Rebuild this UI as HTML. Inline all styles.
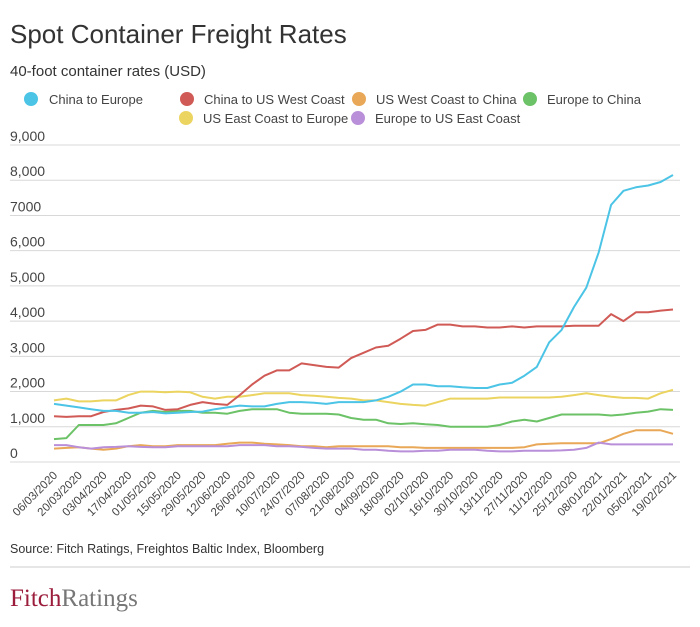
<!DOCTYPE html>
<html><head><meta charset="utf-8">
<style>
body{margin:0;background:#fff;font-family:"Liberation Sans",sans-serif;}
svg{display:block}
</style></head><body>
<svg id="s" width="700" height="627" xmlns="http://www.w3.org/2000/svg" font-family="Liberation Sans, sans-serif">
<text x="10" y="43" font-size="26" fill="#333">Spot Container Freight Rates</text>
<text x="10" y="76" font-size="15" fill="#333">40-foot container rates (USD)</text>
<g font-size="13" fill="#444">
<circle cx="31" cy="99" r="7" fill="#4cc4e6"/><text x="49" y="104">China to Europe</text>
<circle cx="187" cy="99" r="7" fill="#d05a55"/><text x="204" y="104">China to US West Coast</text>
<circle cx="359" cy="99" r="7" fill="#e8a857"/><text x="376" y="104">US West Coast to China</text>
<circle cx="530" cy="99" r="7" fill="#6cc267"/><text x="547" y="104">Europe to China</text>
<circle cx="186" cy="118" r="7" fill="#ecd460"/><text x="203" y="123">US East Coast to Europe</text>
<circle cx="358" cy="118" r="7" fill="#b98fd9"/><text x="375" y="123">Europe to US East Coast</text>
</g>
<g id="grid"></g>
<g id="lines" fill="none" stroke-width="2" stroke-linejoin="round"></g>
<g id="xl" font-size="11.5" fill="#444"></g>
<text x="10" y="553" font-size="12.5" fill="#333">Source: Fitch Ratings, Freightos Baltic Index, Bloomberg</text>
<line x1="10" y1="567" x2="690" y2="567" stroke="#ccc"/>
<text x="10" y="606" font-family="Liberation Serif, serif" font-size="25"><tspan fill="#9b1c3b">Fitch</tspan><tspan fill="#777">Ratings</tspan></text>
</svg>
<script>
var NS="http://www.w3.org/2000/svg";
function el(t,a,p,txt){var e=document.createElementNS(NS,t);for(var k in a)e.setAttribute(k,a[k]);if(txt)e.textContent=txt;document.getElementById(p).appendChild(e);return e;}
function Y(v){return 462-v*0.03522;}
var labs=["0","1,000","2,000","3,000","4,000","5,000","6,000","7000","8,000","9,000"];
for(var i=0;i<=9;i++){var y=Y(i*1000);el("line",{x1:10,x2:680,y1:y,y2:y,stroke:"#d8d8d8"},"grid");el("text",{x:10,y:y-4,"font-size":14,fill:"#444"},"grid",labs[i]);}
var S=[
["#ecd460",[1750,1800,1720,1720,1750,1750,1900,2000,2000,1980,2000,1980,1850,1800,1850,1850,1900,1950,1950,1950,1900,1880,1850,1820,1800,1750,1750,1700,1650,1620,1600,1700,1800,1800,1800,1800,1830,1830,1830,1830,1830,1850,1900,1950,1900,1850,1820,1820,1800,1950,2050]],
["#6cc267",[650,680,1050,1050,1050,1100,1250,1400,1450,1420,1450,1450,1400,1400,1370,1450,1500,1500,1500,1400,1370,1370,1370,1350,1250,1200,1200,1100,1080,1100,1070,1050,1000,1000,1000,1000,1050,1150,1200,1150,1250,1350,1350,1350,1350,1320,1350,1400,1430,1500,1480]],
["#e8a857",[380,400,420,380,350,380,450,480,450,450,480,480,480,480,520,550,550,520,500,480,450,450,420,450,450,450,450,450,420,420,400,400,400,400,400,400,400,400,420,500,520,530,530,530,530,650,800,900,900,900,800]],
["#b98fd9",[480,480,420,380,420,430,450,430,420,420,450,450,450,450,450,480,480,480,450,450,430,400,380,380,380,350,350,320,300,300,320,320,350,350,350,320,300,300,320,320,320,330,350,400,550,500,500,500,500,500,500]],
["#d05a55",[1300,1280,1300,1300,1420,1480,1520,1600,1580,1480,1500,1620,1700,1650,1620,1900,2200,2450,2600,2600,2800,2750,2700,2680,2950,3100,3250,3300,3500,3720,3750,3900,3900,3850,3850,3820,3820,3850,3820,3850,3850,3850,3870,3870,3870,4200,4000,4250,4250,4300,4330]],
["#4cc4e6",[1650,1600,1550,1500,1450,1450,1400,1400,1420,1380,1400,1420,1430,1500,1550,1600,1580,1580,1650,1700,1700,1680,1650,1700,1700,1700,1750,1850,2000,2200,2200,2150,2150,2120,2100,2100,2200,2250,2450,2700,3400,3750,4400,4950,5950,7300,7700,7800,7850,7950,8150]]
];
S.forEach(function(s){var d=s[1],n=d.length,st=(673-54)/(n-1),p=[];for(var i=0;i<n;i++)p.push((54+i*st).toFixed(1)+","+Y(d[i]).toFixed(1));el("polyline",{points:p.join(" "),stroke:s[0]},"lines");});
var xd=["06/03/2020","20/03/2020","03/04/2020","17/04/2020","01/05/2020","15/05/2020","29/05/2020","12/06/2020","26/06/2020","10/07/2020","24/07/2020","07/08/2020","21/08/2020","04/09/2020","18/09/2020","02/10/2020","16/10/2020","30/10/2020","13/11/2020","27/11/2020","11/12/2020","25/12/2020","08/01/2021","22/01/2021","05/02/2021","19/02/2021"];
for(var i=0;i<xd.length;i++){var x=58+i*24.76;el("text",{x:x,y:476,"text-anchor":"end",transform:"rotate(-45 "+x+" 476)"},"xl",xd[i]);}
</script>
</body></html>
